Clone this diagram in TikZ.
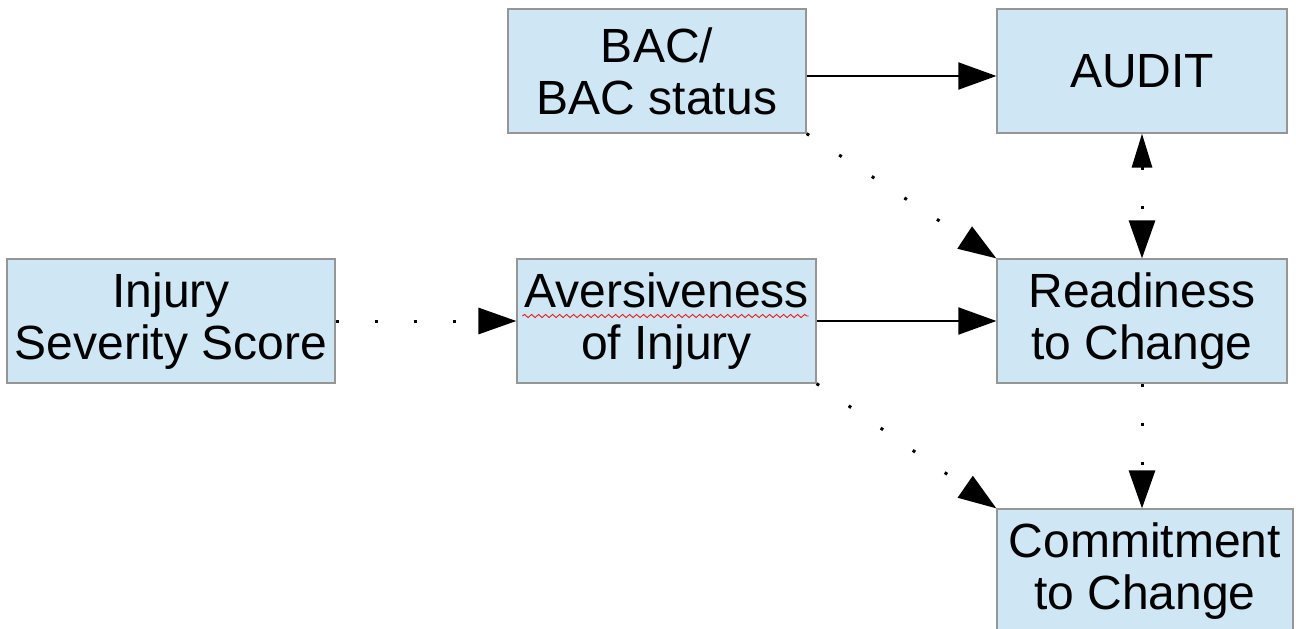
\documentclass[tikz,border=0pt]{standalone}
\usepackage{fontspec}
\setmainfont{Liberation Sans}
\usetikzlibrary{arrows.meta,decorations.pathmorphing}
\definecolor{boxfill}{RGB}{207,230,244}
\definecolor{boxline}{RGB}{150,150,150}
\definecolor{spellred}{RGB}{230,30,30}
\begin{document}
\begin{tikzpicture}[x=1pt,y=-1pt,
  box/.style={draw=boxline,line width=1.2pt,fill=boxfill,minimum height=124pt,
    inner sep=0pt,align=center,font=\fontsize{48}{52}\selectfont},
  solidarrow/.style={line width=2pt,-{Triangle[length=38pt,width=27pt]}},
  dotarrow/.style={line width=3pt,dash pattern=on 3pt off 36pt,
    -{Triangle[length=38pt,width=26pt]}},
  dotboth/.style={line width=3pt,dash pattern=on 3pt off 36pt,
    {Triangle[length=34pt,width=20pt]}-{Triangle[length=38pt,width=26pt]}}]
\useasboundingbox (0,0) rectangle (1296,629);
\clip (0,0) rectangle (1296,629);
\node[box,minimum width=298pt] (bac) at (657,71) {BAC/\\BAC status};
\node[box,minimum width=290pt] (audit) at (1142,71) {AUDIT};
\node[box,minimum width=328pt] (injury) at (171,321) {Injury\\Severity Score};
\node[box,minimum width=299pt] (avers) at (666.5,321) {Aversiveness\\of Injury};
\node[box,minimum width=290pt] (ready) at (1142,321) {Readiness\\to Change};
\node[box,minimum width=296pt] (commit) at (1145,571) {Commitment\\to Change};
% spell-check underline
\draw[spellred,line width=0.9pt,decorate,decoration={snake,amplitude=1.6pt,segment length=7pt}]
  ([xshift=6pt,yshift=5pt]avers.west) -- ([xshift=-8pt,yshift=5pt]avers.east);
% connectors
\draw[solidarrow] ([yshift=-5pt]bac.east) -- ([yshift=-5pt]bac.east -| audit.west);
\draw[solidarrow] (avers.east) -- (ready.west);
\draw[dotarrow] (injury.east) -- (avers.west);
\draw[dotarrow] (bac.south east) -- (ready.north west);
\draw[dotarrow] (avers.south east) -- (commit.north west);
\draw[dotboth] (audit.south) -- (ready.north);
\draw[dotarrow] (ready.south) -- (ready.south |- commit.north);
\end{tikzpicture}
\end{document}
